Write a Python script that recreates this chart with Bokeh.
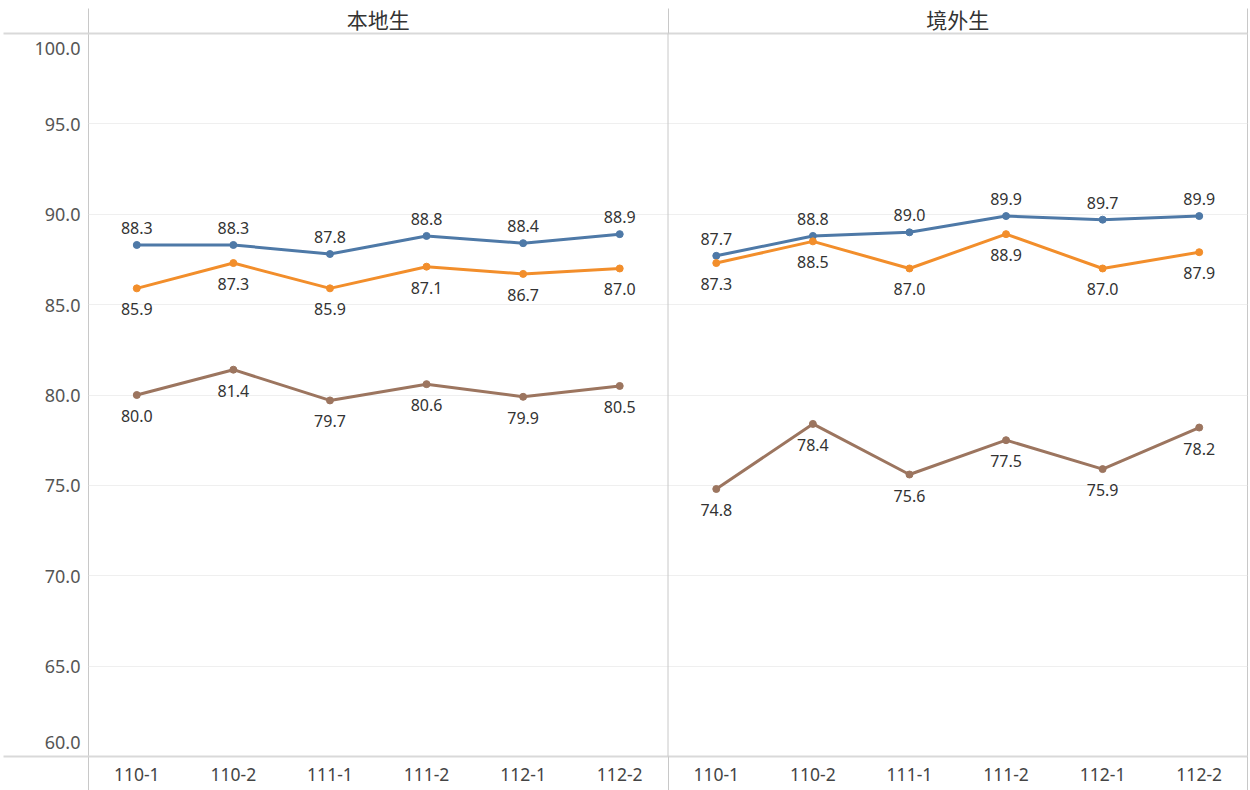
from bokeh.plotting import figure
from bokeh.models import Range1d, FixedTicker, LinearAxis, Span
from bokeh.core.properties import value
from bokeh.embed import file_html
from bokeh.resources import INLINE

# ---------------- data ----------------
periods = ["110-1", "110-2", "111-1", "111-2", "112-1", "112-2"]
groups = ["本地生", "境外生"]

blue_local = [88.3, 88.3, 87.8, 88.8, 88.4, 88.9]
orange_local = [85.9, 87.3, 85.9, 87.1, 86.7, 87.0]
brown_local = [80.0, 81.4, 79.7, 80.6, 79.9, 80.5]

blue_overseas = [87.7, 88.8, 89.0, 89.9, 89.7, 89.9]
orange_overseas = [87.3, 88.5, 87.0, 88.9, 87.0, 87.9]
brown_overseas = [74.8, 78.4, 75.6, 77.5, 75.9, 78.2]

y_ticks = [60, 65, 70, 75, 80, 85, 90, 95, 100]

# ---------------- styling ----------------
BLUE, ORANGE, BROWN = "#4e79a7", "#f28e2b", "#9c755f"
LINE_GREY = "#c8c8c8"
HEAD_GREY = "#d9d9d9"
FONT = "Noto Sans"
CJK = "Noto Sans CJK TC"

LEFT_BAND, TOP_BAND, BOTTOM_BAND = 88, 33, 34
HEADER_TICK = 25

n = len(periods)
series = [
    (blue_local, blue_overseas, BLUE, "above"),
    (orange_local, orange_overseas, ORANGE, "below"),
    (brown_local, brown_overseas, BROWN, "below"),
]

p = figure(
    width=1250, height=790,
    x_range=Range1d(0, n * len(groups)),
    y_range=Range1d(y_ticks[0], y_ticks[-1]),
    output_backend="svg", toolbar_location=None,
    min_border_left=LEFT_BAND, min_border_right=3,
    min_border_top=TOP_BAND, min_border_bottom=BOTTOM_BAND,
)
p.outline_line_color = LINE_GREY
p.background_fill_color = "white"
p.border_fill_color = "white"


def y_label(t):
    s = f"{t:.1f}"
    if t == y_ticks[-1]:
        return "\n" + s   # keep the top label inside the panel
    if t == y_ticks[0]:
        return s + "\n"   # keep the bottom label inside the panel
    return s


# y axis
yax = p.yaxis[0]
yax.ticker = FixedTicker(ticks=y_ticks, minor_ticks=[y_ticks[0], y_ticks[-1]])
yax.axis_line_color = None
yax.major_tick_line_color = None
yax.major_tick_out = 0
yax.major_tick_in = 0
yax.minor_tick_in = 0
yax.minor_tick_out = LEFT_BAND - 3
yax.minor_tick_line_color = HEAD_GREY
yax.minor_tick_line_width = 2
yax.major_label_standoff = 8 - (LEFT_BAND - 3)
yax.major_label_overrides = {t: y_label(t) for t in y_ticks}
yax.major_label_text_font = FONT
yax.major_label_text_font_size = "18px"
yax.major_label_text_color = "#555555"

p.ygrid.ticker = FixedTicker(ticks=y_ticks[1:-1])
p.ygrid.grid_line_color = "#efefef"
p.ygrid.grid_line_width = 1
p.xgrid.grid_line_color = None

# bottom axis (period labels)
centers = [g * n + i + 0.5 for g in range(len(groups)) for i in range(n)]
xax = p.xaxis[0]
xax.ticker = FixedTicker(ticks=centers, minor_ticks=[g * n for g in range(len(groups) + 1)])
xax.major_label_overrides = {c: periods[k % n] for k, c in enumerate(centers)}
xax.axis_line_color = HEAD_GREY
xax.axis_line_width = 2
xax.major_tick_line_color = None
xax.major_tick_out = 0
xax.major_tick_in = 0
xax.minor_tick_in = 0
xax.minor_tick_out = BOTTOM_BAND
xax.minor_tick_line_color = LINE_GREY
xax.major_label_standoff = 11 - BOTTOM_BAND
xax.major_label_text_font = FONT
xax.major_label_text_font_size = "17.5px"
xax.major_label_text_color = "#444444"

# top axis (panel headers)
heads = [g * n + n / 2 for g in range(len(groups))]
top = LinearAxis(
    ticker=FixedTicker(ticks=heads, minor_ticks=[g * n for g in range(len(groups) + 1)]),
    major_label_overrides={h: groups[k] for k, h in enumerate(heads)},
)
top.axis_line_color = HEAD_GREY
top.axis_line_width = 2
top.major_tick_line_color = None
top.major_tick_out = 0
top.major_tick_in = 0
top.minor_tick_in = 0
top.minor_tick_out = HEADER_TICK
top.minor_tick_line_color = LINE_GREY
top.major_label_standoff = 0 - HEADER_TICK
top.major_label_text_font = CJK
top.major_label_text_font_size = "21px"
top.major_label_text_color = "#333333"
p.add_layout(top, "above")

# panel separator
p.add_layout(Span(location=n, dimension="height", line_color=LINE_GREY, line_width=1))

# lines, points, labels
for local_vals, over_vals, color, pos in series:
    for g, vals in enumerate([local_vals, over_vals]):
        xs = [g * n + i + 0.5 for i in range(n)]
        p.line(xs, vals, line_color=color, line_width=3)
        p.scatter(xs, vals, size=7, fill_color=color, line_color=color)
        p.text(xs, vals, text=[f"{v:.1f}" for v in vals],
               text_align="center", text_baseline="middle",
               y_offset=-17 if pos == "above" else 21,
               text_font=value(FONT), text_font_size="16px", text_color="#333333")

open("out.html", "w").write(file_html(p, INLINE))
